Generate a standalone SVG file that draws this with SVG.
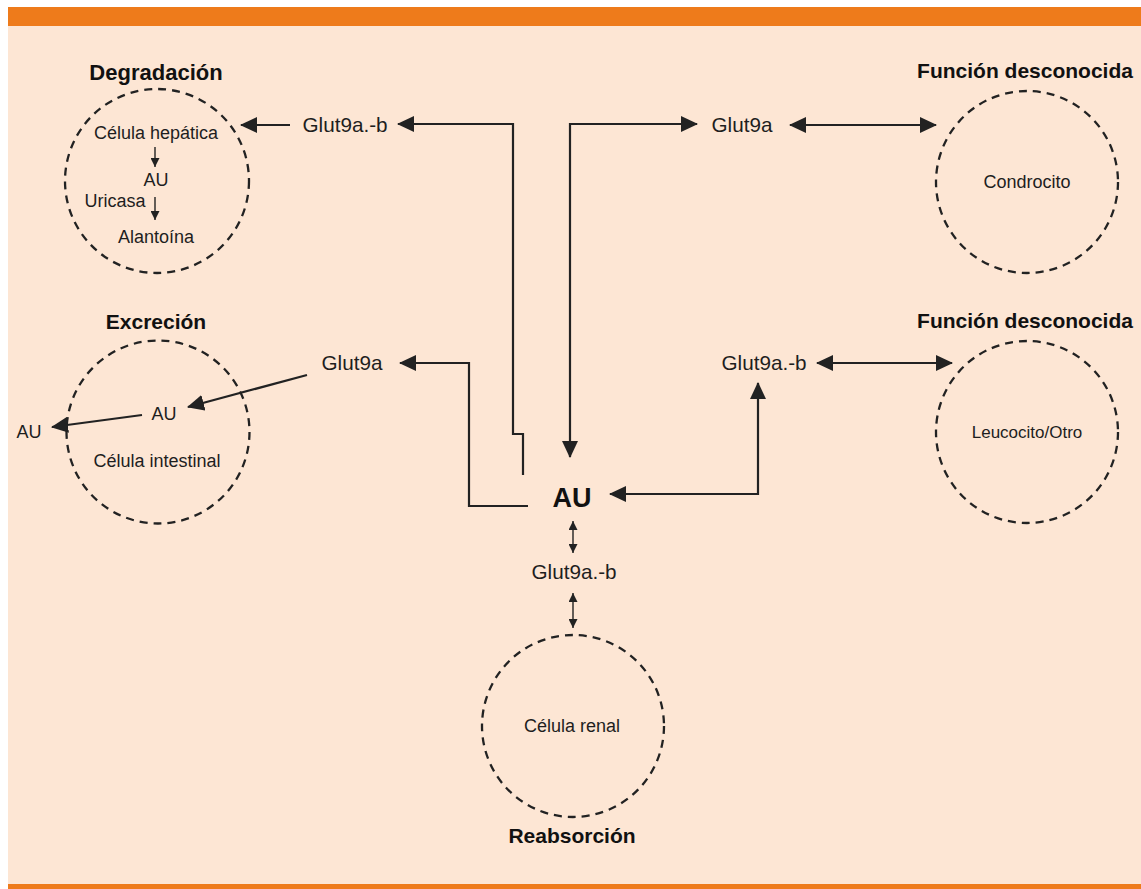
<svg xmlns="http://www.w3.org/2000/svg" width="1141" height="889" viewBox="0 0 1141 889">
<defs>
<style>
.bg{fill:#FDE6D4}
.bar{fill:#EE7B1B}
.cell{fill:none;stroke:#222;stroke-width:2.3;stroke-dasharray:8 6}
.t{font-family:"Liberation Sans",Arial,sans-serif;fill:#1e1e1e}
.title{font-family:"Liberation Sans",Arial,sans-serif;font-weight:bold;fill:#111;font-size:21px;text-anchor:middle}
.lab{font-size:18px;text-anchor:middle}
.glut{font-size:20.7px;text-anchor:middle}
.con{fill:none;stroke:#222;stroke-width:2.2}
.thin{fill:none;stroke:#222;stroke-width:1.4}
</style>
<marker id="ah" markerUnits="userSpaceOnUse" markerWidth="17" markerHeight="16" viewBox="0 0 17 16" refX="16" refY="8" orient="auto-start-reverse">
<path d="M0,0 L17,8 L0,16 z" fill="#222"/>
</marker>
<marker id="sm" markerUnits="userSpaceOnUse" markerWidth="9" markerHeight="9" viewBox="0 0 9 9" refX="9" refY="4.5" orient="auto-start-reverse">
<path d="M0,0 L9,4.5 L0,9 z" fill="#222"/>
</marker>
</defs>
<rect x="8" y="7" width="1133" height="877" class="bg"/>
<rect x="8" y="7" width="1133" height="19" class="bar"/>
<rect x="8" y="884" width="1133" height="5" class="bar"/>

<g id="degradacion">
<text x="156" y="80" class="title" style="font-size:22px">Degradación</text>
<circle cx="157" cy="181" r="92" class="cell"/>
<text x="156" y="139" class="t lab">Célula hepática</text>
<line x1="155" y1="147" x2="155" y2="167" class="thin" marker-end="url(#sm)"/>
<text x="156" y="186" class="t lab">AU</text>
<text x="115" y="207" class="t lab">Uricasa</text>
<line x1="155" y1="197" x2="155" y2="220" class="thin" marker-end="url(#sm)"/>
<text x="156" y="243" class="t lab">Alantoína</text>
</g>

<g id="excrecion">
<text x="156" y="329" class="title">Excreción</text>
<circle cx="158" cy="432" r="91.5" class="cell"/>
<text x="164" y="420" class="t lab">AU</text>
<text x="157" y="467" class="t lab">Célula intestinal</text>
<text x="29" y="438" class="t lab">AU</text>
</g>

<g id="condrocito">
<text x="1025" y="78" class="title">Función desconocida</text>
<circle cx="1027" cy="182" r="91" class="cell"/>
<text x="1027" y="188" class="t lab">Condrocito</text>
</g>

<g id="leucocito">
<text x="1025" y="328" class="title">Función desconocida</text>
<circle cx="1027" cy="432" r="91" class="cell"/>
<text x="1027" y="438" class="t lab" style="font-size:17px">Leucocito/Otro</text>
</g>

<g id="renal">
<circle cx="573" cy="726" r="91" class="cell"/>
<text x="572" y="732" class="t lab">Célula renal</text>
<text x="572" y="843" class="title">Reabsorción</text>
</g>

<g id="au">
<text x="572" y="507" class="title" style="font-size:27px">AU</text>
</g>

<g id="glut-tl"><text x="345" y="132" class="t glut">Glut9a.-b</text></g>
<g id="glut-tr"><text x="742" y="132" class="t glut">Glut9a</text></g>
<g id="glut-ml"><text x="352" y="370" class="t glut">Glut9a</text></g>
<g id="glut-mr"><text x="764" y="370" class="t glut">Glut9a.-b</text></g>
<g id="glut-b"><text x="574" y="579" class="t glut">Glut9a.-b</text></g>

<g id="connectors">
<path d="M523,475 V434 H513 V124 H398" class="con" marker-end="url(#ah)"/>
<path d="M697,124 H570 V457" class="con" marker-start="url(#ah)" marker-end="url(#ah)"/>
<path d="M528,506 H469 V363 H400" class="con" marker-end="url(#ah)"/>
<path d="M758,383 V494 H610" class="con" marker-start="url(#ah)" marker-end="url(#ah)"/>
<line x1="790" y1="125" x2="936" y2="125" class="con" marker-start="url(#ah)" marker-end="url(#ah)"/>
<line x1="817" y1="363" x2="952" y2="363" class="con" marker-start="url(#ah)" marker-end="url(#ah)"/>
<line x1="290" y1="125" x2="241" y2="125" class="con" marker-end="url(#ah)"/>
<line x1="307" y1="375" x2="188" y2="407" class="con" marker-end="url(#ah)"/>
<line x1="142" y1="415" x2="52" y2="427" class="con" marker-end="url(#ah)"/>
<line x1="573" y1="521" x2="573" y2="553" class="thin" marker-start="url(#sm)" marker-end="url(#sm)"/>
<line x1="573" y1="593" x2="573" y2="628" class="thin" marker-start="url(#sm)" marker-end="url(#sm)"/>
</g>
</svg>
